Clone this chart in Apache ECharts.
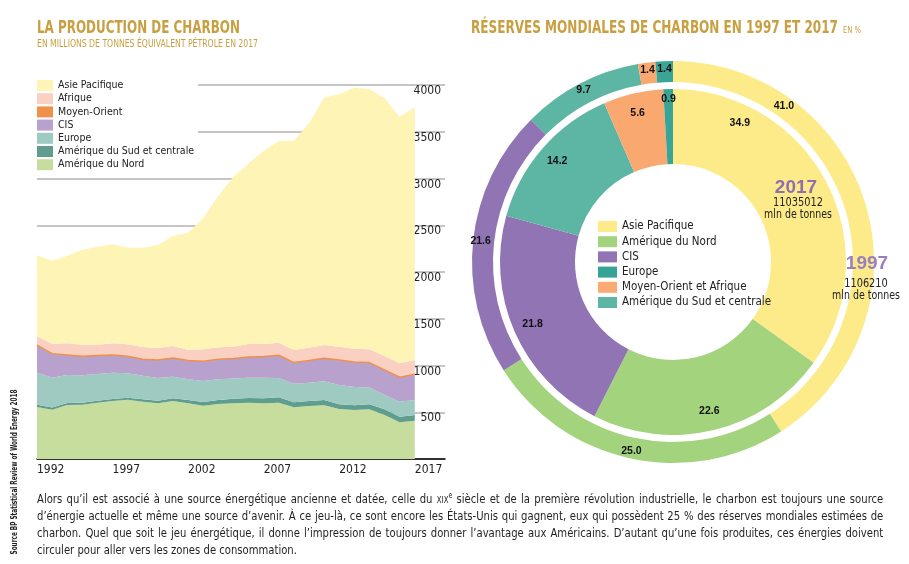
<!DOCTYPE html>
<html><head><meta charset="utf-8">
<script src="https://cdn.jsdelivr.net/npm/echarts@6/dist/echarts.min.js"></script>
<style>
html,body{margin:0;padding:0;background:#fff;}
#chart{position:absolute;left:0;top:0;width:909px;height:564px;}
#para{position:absolute;left:37px;top:490px;width:984px;transform:scaleX(0.86);transform-origin:0 0;font-family:'DejaVu Sans Condensed','Liberation Sans',sans-serif;font-size:13px;line-height:17px;color:#231f20;text-align:justify;}
.sc{font-variant:small-caps;}
</style></head><body>
<div id="chart"></div>
<div id="para">Alors qu’il est associé à une source énergétique ancienne et datée, celle du <span class="sc">xix</span><sup style="font-size:8px;line-height:0">e</sup> siècle et de la première révolution industrielle, le charbon est toujours une source d’énergie actuelle et même une source d’avenir. À ce jeu-là, ce sont encore les États-Unis qui gagnent, eux qui possèdent 25&nbsp;% des réserves mondiales estimées de charbon. Quel que soit le jeu énergétique, il donne l’impression de toujours donner l’avantage aux Américains. D’autant qu’une fois produites, ces énergies doivent circuler pour aller vers les zones de consommation.</div>
<script>
// ---------- DATA ----------
const years = [1992,1993,1994,1995,1996,1997,1998,1999,2000,2001,2002,2003,2004,2005,2006,2007,2008,2009,2010,2011,2012,2013,2014,2015,2016,2017];
const axisPadYears = [2018,2019];
const amNord = [555,528,578,581,602,620,635,613,595,620,595,570,588,595,602,595,602,553,567,574,535,524,531,471,392,410];
const amSud = [24,24,20,21,22,22,20,25,28,29,36,40,43,50,50,54,58,53,53,57,50,50,54,60,61,61];
const europe = [345,317,300,293,285,281,261,253,242,231,221,224,221,215,218,221,206,200,196,200,206,196,181,153,160,160];
const cis = [293,257,214,203,196,189,181,175,193,200,200,211,214,213,221,224,243,224,236,246,268,267,264,268,260,275];
const moyenOrient = [1,1,1,1,1,1,1,1,1,1,1,1,1,1,1,1,1,1,1,1,1,1,1,1,1,1];
const afrique = [96,106,124,124,117,124,128,131,127,128,113,127,127,127,138,135,134,135,138,141,141,142,142,149,149,152];
const asie = [866,887,937,1016,1048,1059,1037,1062,1102,1176,1254,1401,1622,1819,1932,2064,2157,2235,2399,2645,2703,2791,2784,2755,2638,2702];
const yTicks = [500,1000,1500,2000,2500,3000,3500,4000];
const xLabelYears = [1992,1997,2002,2007,2012,2017];

const reserveNames = ['Asie Pacifique','Amérique du Nord','CIS','Europe','Moyen-Orient et Afrique','Amérique du Sud et centrale'];
const reserves2017 = [34.9,22.6,21.8,14.2,5.6,0.9];
const reserves1997 = [41.0,25.0,21.6,9.7,1.4,1.4];

// ---------- STYLE ----------
const FN = "'DejaVu Sans Condensed','Liberation Sans',sans-serif";
const FB = "'Liberation Sans','DejaVu Sans',sans-serif";
const GOLD = '#c8a042';
const prodDefs = [
  ['Amérique du Nord', amNord, '#c6dd9e'],
  ['Amérique du Sud et centrale', amSud, '#5f9e8f'],
  ['Europe', europe, '#9ecac2'],
  ['CIS', cis, '#b9a1cd'],
  ['Moyen-Orient', moyenOrient, '#f0914a'],
  ['Afrique', afrique, '#f9d0c2'],
  ['Asie Pacifique', asie, '#fef4b6']
];
const prodLegend = ['Asie Pacifique','Afrique','Moyen-Orient','CIS','Europe','Amérique du Sud et centrale','Amérique du Nord'];
const sectorCols = ['#fdeb89','#a3d37d','#9074b3','#5db5a3','#f9a870','#3aa596'];
const legendCols = ['#fdeb89','#a3d37d','#9074b3','#35a395','#fbaa74','#5db5a3'];

const CX = 673, CY = 262;
function labelAt(deg, r){ const a = deg*Math.PI/180; return {x: CX + r*Math.sin(a), y: CY - r*Math.cos(a)}; }

const mctx = document.createElement('canvas').getContext('2d');
function fit(text, font, target){ mctx.font = font; return target / mctx.measureText(text).width; }

const chart = echarts.init(document.getElementById('chart'));

const series = prodDefs.map(([name, vals, col]) => ({
  type:'line', name, stack:'prod',
  data: vals.slice(),
  symbol:'none', showSymbol:false,
  itemStyle:{color:col},
  lineStyle:{width: name==='Moyen-Orient' ? 1.5 : 0, color: col},
  areaStyle:{color:col, opacity:1},
  emphasis:{disabled:true}, silent:true
}));

const pieLabel = {show:true, position:'inside', formatter: p => p.value.toFixed(1), fontSize:10.5, fontWeight:'bold', color:'#111', fontFamily:FB};

series.push({
  type:'pie', name:'1997', center:[CX,CY], radius:[180,201], startAngle:90, clockwise:true,
  data: reserveNames.map((n,i)=>({name:n, value:reserves1997[i], itemStyle:{color:sectorCols[i]}})),
  label: pieLabel, labelLine:{show:false}, silent:true, emphasis:{disabled:true},
  labelLayout: p => p.dataIndex===0 ? labelAt(35.5, 191) : {}
});
series.push({
  type:'pie', name:'2017', center:[CX,CY], radius:[98,173], startAngle:90, clockwise:true,
  data: reserveNames.map((n,i)=>({name:n, value:reserves2017[i], itemStyle:{color:sectorCols[i]}})),
  label:{show:false}, labelLine:{show:false}, silent:true, emphasis:{disabled:true}
});
series.push({
  type:'pie', name:'2017 labels', center:[CX,CY], radius:[128,173], startAngle:90, clockwise:true,
  data: reserveNames.map((n,i)=>({name:n, value:reserves2017[i], itemStyle:{color:'rgba(0,0,0,0)'}})),
  label: pieLabel, labelLine:{show:false}, silent:true, emphasis:{disabled:true}, legendHoverLink:false,
  labelLayout: p => p.dataIndex===0 ? labelAt(25.7, 154) : (p.dataIndex===5 ? labelAt(358.4, 163) : {})
});

const t1 = 'LA PRODUCTION DE CHARBON';
const t2 = 'EN MILLIONS DE TONNES ÉQUIVALENT PÉTROLE EN 2017';
const t3 = 'RÉSERVES MONDIALES DE CHARBON EN 1997 ET 2017';
const src = 'Source BP Statistical Review of World Energy 2018';
const fT = "bold 18px " + FN;
const fS = "11px " + FN;
const fSrc = "bold 8px " + FN;
const SC = 0.84;

const graphic = [
  {type:'text', z:100, x:37, y:28, scaleX: fit(t1,fT,203), style:{text:t1, font:fT, fill:GOLD, verticalAlign:'middle'}},
  {type:'text', z:100, x:37, y:44.5, scaleX: fit(t2,fS,221), style:{text:t2, font:fS, fill:GOLD, verticalAlign:'middle'}},
  {type:'text', z:100, x:471, y:28, scaleX: fit(t3,fT,367), style:{text:t3, font:fT, fill:GOLD, verticalAlign:'middle'}},
  {type:'text', z:100, x:843, y:31, scaleX:SC, style:{text:'EN %', font:"9px "+FN, fill:GOLD, verticalAlign:'middle'}},
  {type:'text', z:100, x:15, y:472, rotation:Math.PI/2, scaleX: fit(src,fSrc,165), style:{text:src, font:fSrc, fill:'#222', align:'center', verticalAlign:'middle'}},
  {type:'text', z:100, x:796, y:188, style:{text:'2017', font:"bold 19px "+FB, fill:'#8f6fb0', align:'center', verticalAlign:'middle'}},
  {type:'text', z:100, x:798, y:203, scaleX:SC, style:{text:'11035012', font:"13px "+FN, fill:'#222', align:'center', verticalAlign:'middle'}},
  {type:'text', z:100, x:798, y:215, scaleX:SC, style:{text:'mln de tonnes', font:"12.5px "+FN, fill:'#222', align:'center', verticalAlign:'middle'}},
  {type:'text', z:100, x:867, y:264, style:{text:'1997', font:"bold 19px "+FB, fill:'#9a7fc0', align:'center', verticalAlign:'middle'}},
  {type:'text', z:100, x:866, y:284, scaleX:SC, style:{text:'1106210', font:"13px "+FN, fill:'#222', align:'center', verticalAlign:'middle'}},
  {type:'text', z:100, x:866, y:296, scaleX:SC, style:{text:'mln de tonnes', font:"12.5px "+FN, fill:'#222', align:'center', verticalAlign:'middle'}}
];

chart.setOption({
  animation:false,
  backgroundColor:'#fff',
  grid:{left:37, right:464, top:85, bottom:105},
  xAxis:{type:'category', data: years.concat(axisPadYears), boundaryGap:false,
    axisLine:{lineStyle:{color:'#000', width:1.5}}, axisTick:{show:false}, splitLine:{show:false},
    axisLabel:{interval:0, formatter: v => xLabelYears.includes(+v) ? String(v) : '', align:'left', margin:5, fontFamily:FN, fontSize:12, color:'#222'}},
  yAxis:{type:'value', position:'right', min:0, max:4000, interval:500,
    axisLine:{show:false}, axisTick:{show:false},
    splitLine:{lineStyle:{color:'#b3b3b3', width:1.5}},
    axisLabel:{inside:true, margin:4, verticalAlign:'top', fontFamily:FN, fontSize:12, color:'#222', formatter: v => yTicks.includes(v) ? String(v) : ''}},
  legend:[
    {left:37, top:80, orient:'vertical', icon:'rect', itemWidth:16, itemHeight:11, itemGap:2.2, selectedMode:false,
     backgroundColor:'#fff', padding:[0,4,0,0], data: prodLegend,
     textStyle:{fontFamily:FN, fontSize:10.5, color:'#222', lineHeight:11}},
    {left:593, top:215.5, orient:'vertical', icon:'rect', itemWidth:19, itemHeight:11, itemGap:3.2, selectedMode:false,
     data: reserveNames.map((n,i)=>({name:n, itemStyle:{color:legendCols[i], borderWidth:0}})),
     textStyle:{fontFamily:FN, fontSize:11.5, color:'#222', lineHeight:11}}
  ],
  graphic,
  series
});
</script>
</body></html>
